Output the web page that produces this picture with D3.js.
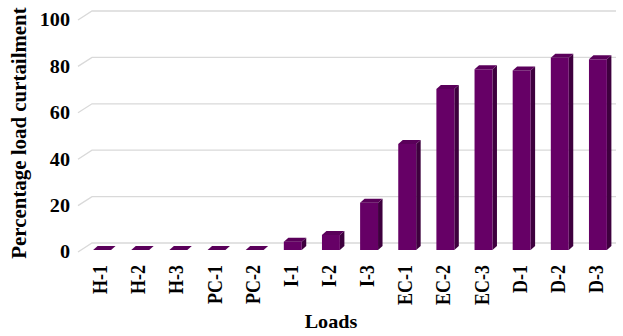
<!DOCTYPE html>
<html><head><meta charset="utf-8">
<script src="https://cdn.jsdelivr.net/npm/d3@7"></script>
<style>body{margin:0;background:#fff}svg{display:block}text{font-family:"Liberation Serif","Times New Roman",serif;font-weight:bold;fill:#000}</style>
</head><body>
<script>
const categories = ["H-1","H-2","H-3","PC-1","PC-2","I-1","I-2","I-3","EC-1","EC-2","EC-3","D-1","D-2","D-3"];
const values = [0,0,0,0,0,3.6,6.5,20.4,45.7,69.4,77.9,77.4,82.9,82.2];
const yTicks = [0,20,40,60,80,100];

const W=623,H=336;
const svg=d3.select("body").append("svg").attr("width",W).attr("height",H);

const x=d3.scaleBand().domain(categories).range([83,617]).paddingInner(0.53).paddingOuter(0.265);
const yFront=d3.scaleLinear().domain([0,100]).range([252,20]);
const yBack=d3.scaleLinear().domain([0,100]).range([243,11]);
const yBar=d3.scaleLinear().domain([0,100]).range([250,18]);
const depthX=14, depthY=-9, bdx=4.5, bdy=-4;
const floorLeft=78, backRight=616;

// gridlines
const g=svg.append("g");
yTicks.forEach(t=>{
  g.append("path").attr("d",`M${floorLeft},${yFront(t)}L${floorLeft+depthX},${yBack(t)}L${backRight},${yBack(t)}`)
   .attr("fill","none").attr("stroke","#d9d9d9").attr("stroke-width",1.3);
});

// y tick labels
svg.append("g").selectAll("text").data(yTicks).join("text")
  .attr("transform",d=>`translate(70,${yFront(d)}) scale(1.12,1)`)
  .attr("text-anchor","end").attr("dy","0.35em").attr("font-size",18).text(d=>d);

// bars
const bars=svg.append("g").selectAll("g").data(categories.map((c,i)=>({c,v:values[i]}))).join("g");
bars.each(function(d){
  const s=d3.select(this);
  const x0=x(d.c), x1=x0+x.bandwidth(), yt=yBar(d.v), yb=yBar(0);
  s.append("path").attr("d",`M${x1},${yt}L${x1+bdx},${yt+bdy}L${x1+bdx},${yb+bdy}L${x1},${yb}Z`).attr("fill","#3e003e");
  s.append("rect").attr("x",x0).attr("y",yt).attr("width",x.bandwidth()).attr("height",Math.max(0,yb-yt)).attr("fill","#660066");
  s.append("path").attr("d",`M${x0},${yt}L${x0+bdx},${yt+bdy}L${x1+bdx},${yt+bdy}L${x1},${yt}Z`).attr("fill","#5a005a");
});

// x labels
svg.append("g").selectAll("text").data(categories).join("text")
  .attr("transform",d=>`translate(${x(d)+x.bandwidth()/2-2},265) rotate(-90) scale(1,1.12)`)
  .attr("text-anchor","end").attr("dy","0.35em").attr("font-size",18).text(d=>d);

// axis titles
svg.append("text").attr("transform","translate(19,133) rotate(-90) scale(1.1,1.05)")
  .attr("text-anchor","middle").attr("dy","0.35em").attr("font-size",19).text("Percentage load curtailment");
svg.append("text").attr("transform","translate(331,322) scale(1.12,1)")
  .attr("text-anchor","middle").attr("dy","0.35em").attr("font-size",18).text("Loads");
</script>
</body></html>
